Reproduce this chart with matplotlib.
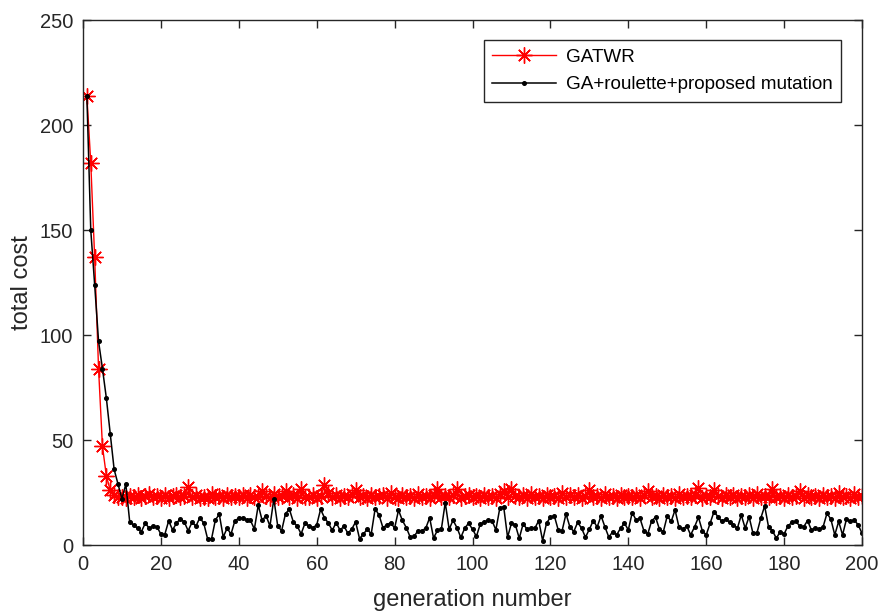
import numpy as np
import matplotlib
matplotlib.use("Agg")
import matplotlib.pyplot as plt

plt.rcParams["font.family"] = ["Liberation Sans", "DejaVu Sans"]

# GATWR: best total cost per generation
gatwr = [
    214, 182, 137, 84, 47, 33, 26, 24, 23, 23,
    22.5, 23.5, 22.8, 23.9, 22.4, 23.2, 24.1, 22.7, 23.4, 22.3,
    23.8, 22.6, 23.3, 24.0, 22.9, 23.5, 27.4, 22.8, 23.6, 22.4,
    23.1, 22.5, 24.2, 22.9, 23.4, 22.6, 23.8, 22.7, 23.3, 22.9,
    23.6, 22.5, 24.0, 23.1, 22.8, 25.5, 23.2, 22.6, 24.3, 22.9,
    23.4, 25.7, 22.7, 23.9, 22.5, 26.5, 23.1, 22.8, 23.7, 22.4,
    23.3, 28.5, 25.0, 22.7, 23.8, 22.6, 23.4, 22.9, 24.1, 26.0,
    22.8, 23.5, 22.4, 23.9, 22.7, 23.3, 24.0, 22.6, 25.0, 23.1,
    22.5, 23.7, 22.9, 23.4, 22.6, 24.1, 22.8, 23.3, 22.5, 23.8,
    26.5, 22.7, 23.4, 22.9, 23.6, 26.5, 22.6, 23.2, 24.0, 22.8,
    23.5, 22.6, 23.9, 22.9, 23.3, 22.5, 24.2, 25.5, 23.0, 26.7,
    23.4, 22.7, 23.8, 22.5, 24.1, 22.9, 23.3, 22.6, 23.7, 22.8,
    23.2, 22.5, 25.0, 22.9, 23.6, 22.7, 24.0, 22.6, 23.4, 26.0,
    22.8, 23.5, 22.6, 24.1, 22.9, 23.3, 22.5, 23.9, 22.7, 23.4,
    22.9, 23.7, 22.6, 24.0, 25.5, 22.8, 23.4, 22.5, 23.8, 22.9,
    23.3, 22.6, 24.1, 22.8, 23.5, 22.7, 23.9, 27.0, 22.6, 23.4,
    22.8, 26.0, 23.2, 22.5, 23.7, 22.9, 24.0, 22.6, 23.3, 22.8,
    23.6, 22.5, 24.1, 22.9, 23.4, 22.7, 26.5, 22.8, 23.5, 22.6,
    23.9, 22.7, 23.3, 25.5, 22.6, 24.0, 22.9, 23.4, 22.5, 23.8,
    22.8, 23.5, 22.6, 25.0, 22.9, 23.3, 22.6, 24.1, 22.8, 23.5,
]

# GA + roulette + proposed mutation
ga_roulette = [
    214, 150, 124, 97, 84, 70, 53, 36, 29, 22,
    29, 11, 9.5, 8, 6.4, 10.4, 8, 9, 8.6, 5.2,
    5, 11.5, 7.2, 10.4, 12.5, 11, 6.8, 10.8, 9, 13,
    10.4, 2.9, 2.9, 12, 14.6, 3.8, 8, 5.2, 11.5, 12.8,
    13, 12, 11.7, 7.6, 19, 11.7, 14, 9, 22, 9,
    6.8, 15, 17, 11, 9, 5.3, 10.4, 9, 8.3, 9.5,
    17, 13, 10.4, 7, 10.7, 7, 9, 5.6, 7.6, 11,
    3, 5.3, 7.5, 5.3, 17.2, 14.3, 8.3, 9.5, 10.7, 8,
    16.6, 11.7, 8.3, 3.8, 4.1, 6.8, 6.8, 8, 13, 3.3,
    7, 7.5, 20.2, 7.5, 11.8, 8.3, 3.6, 8, 10.4, 7.5,
    4.1, 10, 11, 11.7, 11.6, 7.2, 17.5, 18.3, 3.7, 10.4,
    9.6, 3.2, 10.1, 7.5, 8, 8, 11.6, 2.1, 10.4, 13.2,
    13.9, 7.2, 6.8, 14.8, 8.6, 6.4, 10.8, 8, 3.7, 7.5,
    11.6, 8.6, 13.9, 8.6, 3.7, 6.4, 4.8, 8, 10.4, 7.2,
    15.4, 11.9, 12.7, 6.8, 5.3, 11.6, 13.2, 7.5, 6.4, 13.9,
    11.2, 16.7, 8.6, 7.5, 9.1, 4.8, 8.6, 13.2, 6.8, 4.8,
    10.4, 15.9, 13.5, 11.2, 12.3, 10.8, 9.6, 8, 14.3, 8,
    13.5, 5.6, 5.6, 12.7, 18.6, 8.6, 6.8, 3.2, 6.4, 5.3,
    9.1, 10.8, 11.2, 9.1, 8.6, 11.6, 7.2, 8, 7.5, 8.6,
    15.1, 12.3, 4.8, 11.2, 4.8, 12.3, 11.2, 11.9, 9.6, 5.6,
]

generations = np.arange(1, len(gatwr) + 1)
x_ticks = [0, 20, 40, 60, 80, 100, 120, 140, 160, 180, 200]
y_ticks = [0, 50, 100, 150, 200, 250]

ink = "#262626"
fig = plt.figure(figsize=(8.79, 6.11), dpi=100)
ax = fig.add_axes([0.0944, 0.108, 0.8863, 0.859])

ax.plot(generations, gatwr, color="red", lw=1.0, marker=(8, 2, 0),
        markersize=11.5, markeredgewidth=1.0, label="GATWR")
ax.plot(generations[:len(ga_roulette)], ga_roulette, color="black", lw=1.1,
        marker="o", markersize=2.6, label="GA+roulette+proposed mutation")

ax.set_xlim(0, 200)
ax.set_ylim(0, 250)
ax.set_xticks(x_ticks)
ax.set_yticks(y_ticks)
ax.tick_params(direction="in", top=True, right=True, length=6, width=1.0,
               colors=ink, labelsize=14.5, pad=7)
for s in ax.spines.values():
    s.set_color(ink)
    s.set_linewidth(1.0)
ax.set_xlabel("generation number", fontsize=17, color=ink, labelpad=11)
ax.set_ylabel("total cost", fontsize=17, color=ink, labelpad=5)

leg = ax.legend(loc="upper right", bbox_to_anchor=(0.973, 0.962),
                borderaxespad=0, fancybox=False, framealpha=1,
                edgecolor=ink, fontsize=13.6, handlelength=3.4,
                labelspacing=0.55, borderpad=0.45, handletextpad=0.5)
leg.get_frame().set_linewidth(1.0)

fig.savefig("out.png", dpi=100, facecolor="white")
